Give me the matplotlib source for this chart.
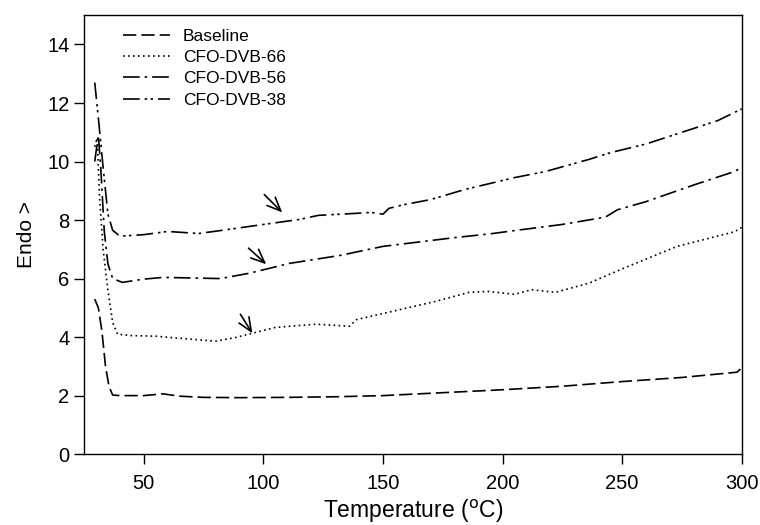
import matplotlib.pyplot as plt

plt.rcParams['font.family'] = ['Liberation Sans', 'DejaVu Sans']

# Baseline (dashed)
base_t = [29.5, 31, 32.5, 34, 35.5, 37, 40, 50, 58, 65, 75, 90, 110, 130, 150, 175, 200, 225, 250, 275, 298, 300]
base_y = [5.3, 5.0, 4.2, 3.0, 2.3, 2.02, 2.0, 2.0, 2.06, 1.98, 1.94, 1.93, 1.94, 1.96, 2.0, 2.1, 2.2, 2.32, 2.48, 2.62, 2.8, 2.95]

# CFO-DVB-66 (dotted)
d66_t = [29.5, 30.5, 31.5, 33, 35, 37, 39, 45, 55, 65, 80, 88, 95.4, 105, 122, 136, 139, 154, 172, 186, 194, 205, 212, 222, 236, 252, 273, 297, 300]
d66_y = [10.5, 10.8, 8.8, 7.0, 5.6, 4.5, 4.1, 4.05, 4.03, 3.96, 3.86, 3.98, 4.13, 4.33, 4.44, 4.37, 4.6, 4.88, 5.22, 5.53, 5.56, 5.46, 5.62, 5.53, 5.84, 6.4, 7.1, 7.6, 7.75]

# CFO-DVB-56 (dash-dot)
d56_t = [29.5, 31, 32, 33.5, 35, 37, 41, 50, 58, 70, 82, 94, 111, 132, 150, 164, 180, 195, 205, 225, 243, 248, 260, 280, 297, 300]
d56_y = [10.0, 10.9, 9.8, 7.6, 6.5, 6.0, 5.87, 5.98, 6.04, 6.02, 6.0, 6.18, 6.52, 6.79, 7.1, 7.24, 7.4, 7.53, 7.64, 7.85, 8.1, 8.35, 8.63, 9.2, 9.66, 9.8]

# CFO-DVB-38 (dash-dot-dot)
d38_t = [29.5, 31, 33, 35, 37, 40, 50, 60, 73, 82, 94, 115, 123, 139, 145, 150, 152.5, 159, 170, 184, 205, 218, 236, 245, 260, 275, 290, 300]
d38_y = [12.7, 11.5, 9.8, 8.2, 7.65, 7.45, 7.5, 7.61, 7.54, 7.64, 7.78, 8.02, 8.16, 8.23, 8.26, 8.2, 8.4, 8.53, 8.7, 9.04, 9.45, 9.66, 10.07, 10.3, 10.6, 11.0, 11.4, 11.8]

# arrows: (tail, head)
arrows = [((100.4, 8.87), (107.9, 8.26)),
          ((93.8, 7.04), (101.2, 6.49)),
          ((90.4, 4.78), (95.4, 4.13))]

fig = plt.figure(figsize=(7.6, 5.25), dpi=100)
ax = fig.add_axes([0.1105, 0.135, 0.8655, 0.836])

lw = 1.2
ax.plot(base_t, base_y, color='black', lw=lw, dashes=(8, 3), label='Baseline')
ax.plot(d66_t, d66_y, color='black', lw=lw, dashes=(1, 2), label='CFO-DVB-66')
ax.plot(d56_t, d56_y, color='black', lw=lw, dashes=(10, 3, 1.5, 3), label='CFO-DVB-56')
ax.plot(d38_t, d38_y, color='black', lw=lw, dashes=(10, 3, 1.5, 2, 1.5, 3), label='CFO-DVB-38')

for tail, head in arrows:
    ax.annotate('', xy=head, xytext=tail,
                arrowprops=dict(arrowstyle='->,head_length=0.7,head_width=0.3',
                                color='black', lw=1.2, shrinkA=0, shrinkB=0,
                                mutation_scale=14))

ax.set_xlim(25, 300)
ax.set_ylim(0, 15)
ax.set_xticks([50, 100, 150, 200, 250, 300])
ax.set_yticks(range(0, 15, 2))
ax.tick_params(direction='out', length=7, width=1, labelsize=14.5)
ax.tick_params(axis='x', pad=7)
for s in ax.spines.values():
    s.set_linewidth(1.0)

ax.set_xlabel('Temperature ($^{\\mathrm{o}}$C)', fontsize=16.5, labelpad=4)
ax.set_ylabel('Endo >', fontsize=15, labelpad=8)

ax.legend(loc='upper left', bbox_to_anchor=(0.049, 0.985), borderaxespad=0,
          frameon=False, fontsize=12.5, handlelength=2.7, handletextpad=0.75,
          labelspacing=0.35)

fig.savefig('out.png', dpi=100)
